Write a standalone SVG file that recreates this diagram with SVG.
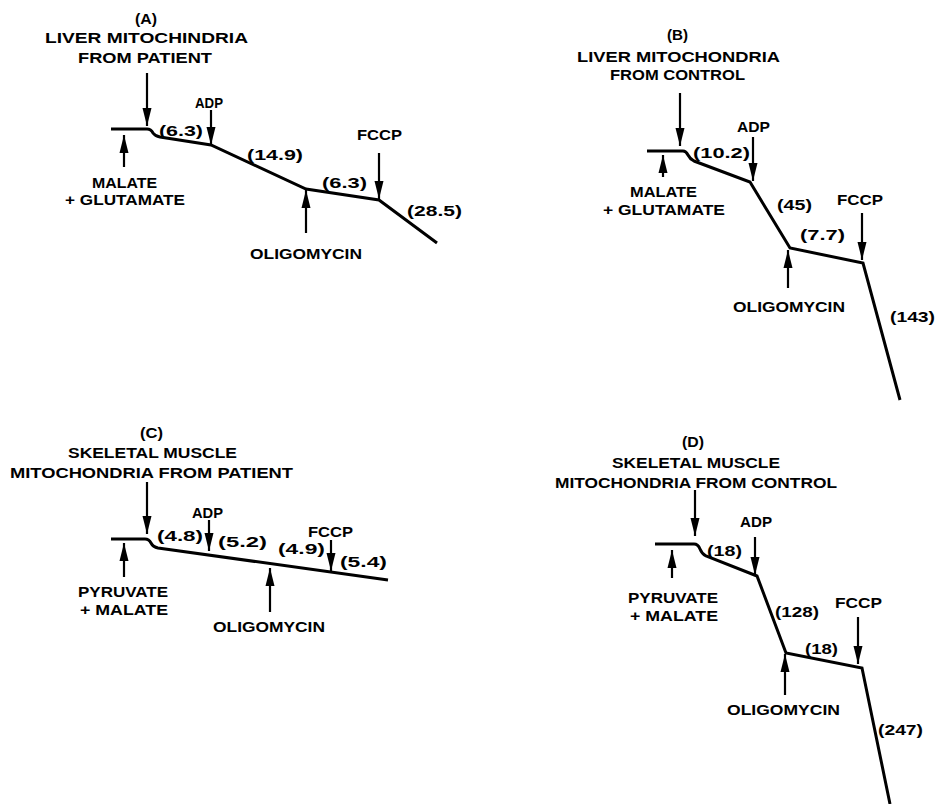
<svg xmlns="http://www.w3.org/2000/svg" width="936" height="804" viewBox="0 0 936 804">
<style>
text{font-family:"Liberation Sans",Arial,sans-serif;font-weight:bold;font-size:14.5px;fill:#000}
.trace{fill:none;stroke:#000;stroke-width:3;stroke-linejoin:miter}
.arr{fill:none;stroke:#000;stroke-width:2.2;marker-end:url(#ah)}
</style>
<defs>
<marker id="ah" markerUnits="userSpaceOnUse" markerWidth="19" markerHeight="10" refX="18" refY="5" orient="auto">
<path d="M0,0.5 L18,5 L0,9.5 Z" fill="#000"/>
</marker>
</defs>
<rect width="936" height="804" fill="#fff"/>

<g id="panelA">
<text x="135" y="24" textLength="22" lengthAdjust="spacingAndGlyphs">(A)</text>
<text x="45" y="43" textLength="203" lengthAdjust="spacingAndGlyphs">LIVER MITOCHINDRIA</text>
<text x="78" y="63" textLength="134" lengthAdjust="spacingAndGlyphs">FROM PATIENT</text>
<text x="195" y="108" textLength="28" lengthAdjust="spacingAndGlyphs">ADP</text>
<text x="159" y="136" textLength="44" lengthAdjust="spacingAndGlyphs">(6.3)</text>
<text x="247" y="160" textLength="56" lengthAdjust="spacingAndGlyphs">(14.9)</text>
<text x="322" y="188" textLength="45" lengthAdjust="spacingAndGlyphs">(6.3)</text>
<text x="357" y="140" textLength="45" lengthAdjust="spacingAndGlyphs">FCCP</text>
<text x="407" y="216" textLength="55" lengthAdjust="spacingAndGlyphs">(28.5)</text>
<text x="92" y="188" textLength="65" lengthAdjust="spacingAndGlyphs">MALATE</text>
<text x="65" y="205" textLength="120" lengthAdjust="spacingAndGlyphs">+ GLUTAMATE</text>
<text x="250" y="259" textLength="112" lengthAdjust="spacingAndGlyphs">OLIGOMYCIN</text>
</g>

<g id="panelB">
<text x="667" y="40" textLength="21" lengthAdjust="spacingAndGlyphs">(B)</text>
<text x="577" y="62" textLength="203" lengthAdjust="spacingAndGlyphs">LIVER MITOCHONDRIA</text>
<text x="610" y="80" textLength="135" lengthAdjust="spacingAndGlyphs">FROM CONTROL</text>
<text x="737" y="132" textLength="33" lengthAdjust="spacingAndGlyphs">ADP</text>
<text x="693" y="158" textLength="57" lengthAdjust="spacingAndGlyphs">(10.2)</text>
<text x="777" y="210" textLength="35" lengthAdjust="spacingAndGlyphs">(45)</text>
<text x="800" y="240" textLength="45" lengthAdjust="spacingAndGlyphs">(7.7)</text>
<text x="837" y="205" textLength="46" lengthAdjust="spacingAndGlyphs">FCCP</text>
<text x="890" y="322" textLength="45" lengthAdjust="spacingAndGlyphs">(143)</text>
<text x="630" y="197" textLength="67" lengthAdjust="spacingAndGlyphs">MALATE</text>
<text x="603" y="215" textLength="122" lengthAdjust="spacingAndGlyphs">+ GLUTAMATE</text>
<text x="733" y="312" textLength="112" lengthAdjust="spacingAndGlyphs">OLIGOMYCIN</text>
</g>

<g id="panelC">
<text x="140" y="438" textLength="23" lengthAdjust="spacingAndGlyphs">(C)</text>
<text x="68" y="458" textLength="169" lengthAdjust="spacingAndGlyphs">SKELETAL MUSCLE</text>
<text x="10" y="478" textLength="283" lengthAdjust="spacingAndGlyphs">MITOCHONDRIA FROM PATIENT</text>
<text x="192" y="518" textLength="31" lengthAdjust="spacingAndGlyphs">ADP</text>
<text x="157" y="541" textLength="46" lengthAdjust="spacingAndGlyphs">(4.8)</text>
<text x="218" y="547" textLength="49" lengthAdjust="spacingAndGlyphs">(5.2)</text>
<text x="278" y="554" textLength="47" lengthAdjust="spacingAndGlyphs">(4.9)</text>
<text x="308" y="537" textLength="45" lengthAdjust="spacingAndGlyphs">FCCP</text>
<text x="340" y="567" textLength="47" lengthAdjust="spacingAndGlyphs">(5.4)</text>
<text x="78" y="597" textLength="90" lengthAdjust="spacingAndGlyphs">PYRUVATE</text>
<text x="80" y="615" textLength="88" lengthAdjust="spacingAndGlyphs">+ MALATE</text>
<text x="213" y="632" textLength="112" lengthAdjust="spacingAndGlyphs">OLIGOMYCIN</text>
</g>

<g id="panelD">
<text x="682" y="447" textLength="22" lengthAdjust="spacingAndGlyphs">(D)</text>
<text x="612" y="468" textLength="168" lengthAdjust="spacingAndGlyphs">SKELETAL MUSCLE</text>
<text x="555" y="488" textLength="282" lengthAdjust="spacingAndGlyphs">MITOCHONDRIA FROM CONTROL</text>
<text x="740" y="527" textLength="32" lengthAdjust="spacingAndGlyphs">ADP</text>
<text x="707" y="556" textLength="35" lengthAdjust="spacingAndGlyphs">(18)</text>
<text x="775" y="617" textLength="44" lengthAdjust="spacingAndGlyphs">(128)</text>
<text x="805" y="654" textLength="33" lengthAdjust="spacingAndGlyphs">(18)</text>
<text x="835" y="608" textLength="47" lengthAdjust="spacingAndGlyphs">FCCP</text>
<text x="878" y="735" textLength="45" lengthAdjust="spacingAndGlyphs">(247)</text>
<text x="628" y="603" textLength="90" lengthAdjust="spacingAndGlyphs">PYRUVATE</text>
<text x="630" y="621" textLength="88" lengthAdjust="spacingAndGlyphs">+ MALATE</text>
<text x="727" y="715" textLength="113" lengthAdjust="spacingAndGlyphs">OLIGOMYCIN</text>
</g>

<g id="connectors">
<path class="trace" d="M111,129 L147,129 Q151,129 153,133 Q155,136 160,137 L211,145 L306,189 L379,200 L437,243"/>
<path class="trace" d="M647,151 L683,151 Q686,151 688,155 Q690,159 694,161 L750,182 L790,248 L863,263 L900,400"/>
<path class="trace" d="M111,539 L145,539 Q149,539 151,543 Q153,547 158,548 L388,580"/>
<path class="trace" d="M655,544 L694,544 Q698,544 700,549 Q702,554 706,556 L757,576 L786,653 L862,668 L890,804"/>

<line class="arr" x1="147" y1="73" x2="147" y2="126"/>
<line class="arr" x1="211" y1="110" x2="211" y2="145"/>
<line class="arr" x1="379" y1="153" x2="379" y2="199"/>
<line class="arr" x1="124" y1="167" x2="124" y2="135"/>
<line class="arr" x1="306" y1="233" x2="306" y2="190"/>

<line class="arr" x1="680" y1="93" x2="680" y2="146"/>
<line class="arr" x1="753" y1="137" x2="753" y2="181"/>
<line class="arr" x1="862" y1="213" x2="862" y2="260"/>
<line class="arr" x1="663" y1="177" x2="663" y2="155"/>
<line class="arr" x1="788" y1="288" x2="788" y2="250"/>

<line class="arr" x1="147" y1="482" x2="147" y2="534"/>
<line class="arr" x1="209" y1="520" x2="209" y2="551"/>
<line class="arr" x1="331" y1="540" x2="331" y2="571"/>
<line class="arr" x1="124" y1="577" x2="124" y2="543"/>
<line class="arr" x1="270" y1="612" x2="270" y2="568"/>

<line class="arr" x1="695" y1="490" x2="695" y2="536"/>
<line class="arr" x1="755" y1="537" x2="755" y2="575"/>
<line class="arr" x1="858" y1="617" x2="858" y2="664"/>
<line class="arr" x1="672" y1="578" x2="672" y2="550"/>
<line class="arr" x1="785" y1="695" x2="785" y2="654"/>
</g>
</svg>
